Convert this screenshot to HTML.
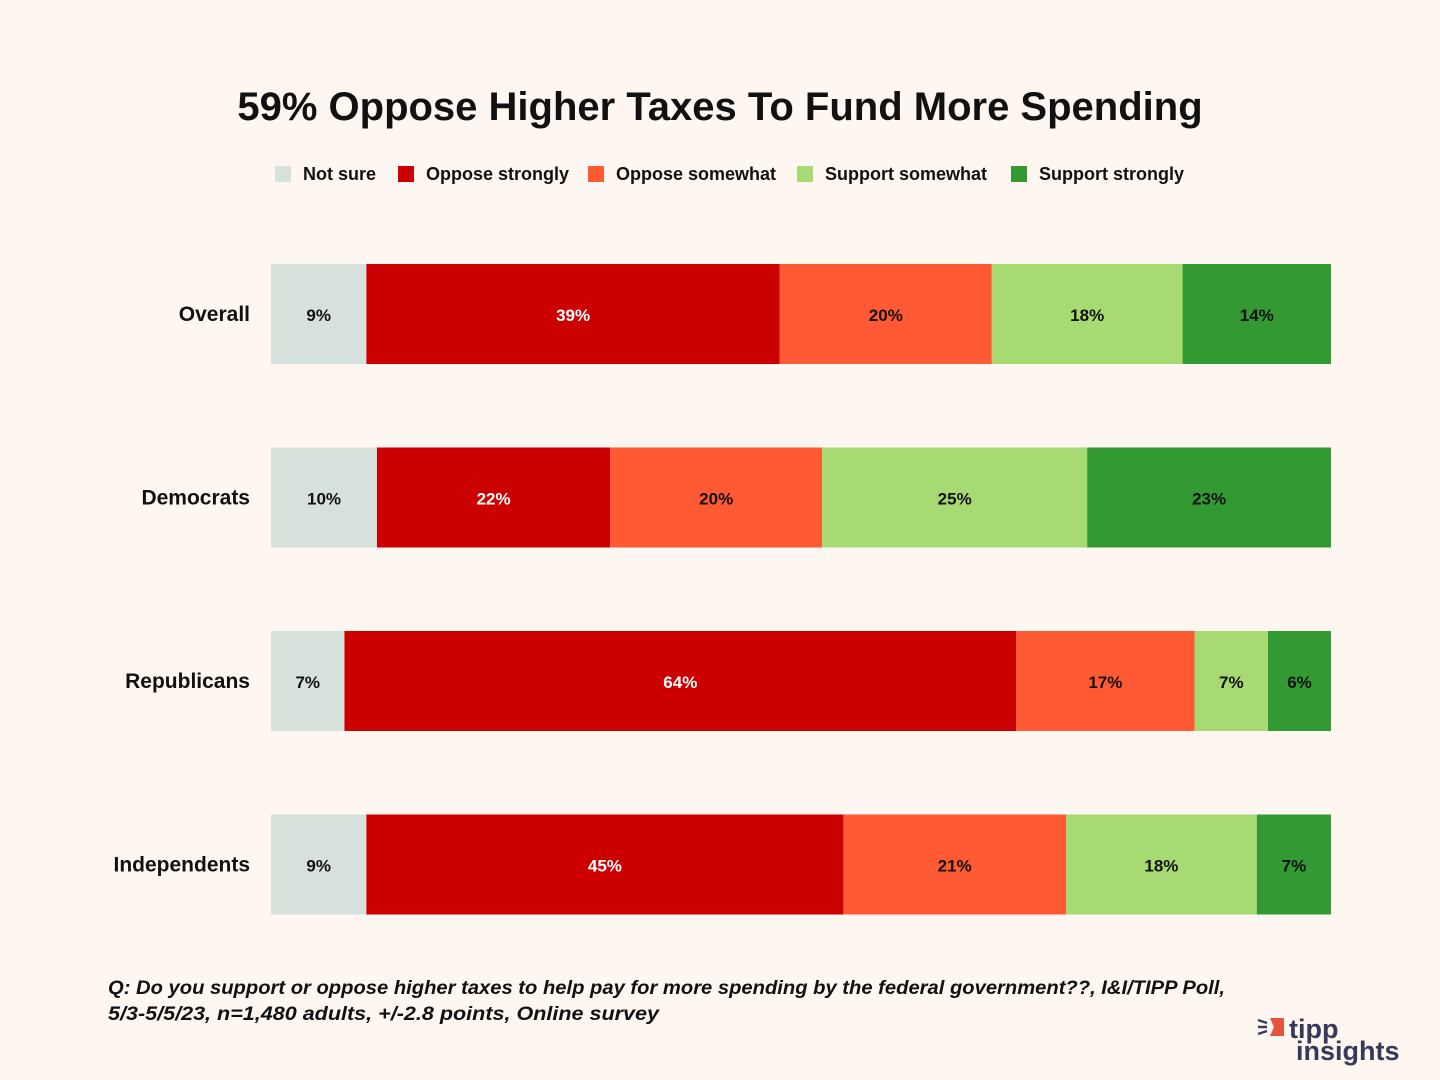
<!DOCTYPE html>
<html><head><meta charset="utf-8">
<style>
html,body{margin:0;padding:0;background:#fdf6f1;}
svg{display:block;font-family:"Liberation Sans",sans-serif;}
</style></head>
<body>
<svg id="chart" width="1440" height="1080" viewBox="0 0 1440 1080">
<rect width="1440" height="1080" fill="#fdf6f1"/>
<text x="720" y="120" text-anchor="middle" font-size="40" font-weight="bold" fill="#111">59% Oppose Higher Taxes To Fund More Spending</text>
<g id="legend"></g>
<g id="bars"></g>
<g id="cats"></g>
<text x="108" y="994" font-size="19" font-style="italic" font-weight="bold" fill="#111" textLength="1117" lengthAdjust="spacingAndGlyphs">Q: Do you support or oppose higher taxes to help pay for more spending by the federal government??, I&amp;I/TIPP Poll,</text>
<text x="108" y="1020" font-size="19" font-style="italic" font-weight="bold" fill="#111" textLength="551" lengthAdjust="spacingAndGlyphs">5/3-5/5/23, n=1,480 adults, +/-2.8 points, Online survey</text>
<g>
<path d="M1270 1018 h14 v18 h-14 l4 -9 z" fill="#e8503f"/>
<line x1="1258" y1="1020" x2="1267" y2="1023" stroke="#3a3d5c" stroke-width="2.5"/>
<line x1="1258" y1="1027" x2="1267" y2="1027" stroke="#3a3d5c" stroke-width="2.5"/>
<line x1="1258" y1="1034" x2="1267" y2="1031" stroke="#3a3d5c" stroke-width="2.5"/>
<text x="1289" y="1038" font-size="27" font-weight="bold" fill="#363a58">tipp</text>
<text x="1296" y="1060" font-size="27" font-weight="bold" fill="#363a58">insights</text>
</g>
</svg>
<script>
const categories = ["Overall","Democrats","Republicans","Independents"];
const seriesNames = ["Not sure","Oppose strongly","Oppose somewhat","Support somewhat","Support strongly"];
const notSure = [9,10,7,9];
const opposeStrongly = [39,22,64,45];
const opposeSomewhat = [20,20,17,21];
const supportSomewhat = [18,25,7,18];
const supportStrongly = [14,23,6,7];
const series = [notSure,opposeStrongly,opposeSomewhat,supportSomewhat,supportStrongly];
const colors = ["#d6e1dc","#cc0000","#ff5a33","#a8da74","#339933"];
const textColors = ["#111","#fff","#111","#111","#111"];

const NS="http://www.w3.org/2000/svg";
const X0=271, X1=1331, bandTop=264, bandStep=183.5, barH=100;
function xScale(frac){return X0+frac*(X1-X0);}
function yScale(i){return bandTop+i*bandStep;}
function mk(tag,attrs,parent){const e=document.createElementNS(NS,tag);for(const k in attrs)e.setAttribute(k,attrs[k]);parent.appendChild(e);return e;}

const bars=document.getElementById('bars'), cats=document.getElementById('cats'), legend=document.getElementById('legend');
categories.forEach((c,i)=>{
  const y=yScale(i);
  const t=mk('text',{x:250,y:y+barH/2+7,'text-anchor':'end','font-size':21,'font-weight':'bold',fill:'#111'},cats);
  
  
  t.textContent=c;
  let total=0; series.forEach(s=>total+=s[i]);
  let cum=0;
  series.forEach((s,j)=>{
    const xa=xScale(cum/total), xb=xScale((cum+s[i])/total);
    const r=mk('rect',{x:xa,y:y,width:xb-xa,height:barH,fill:colors[j]},bars);
    
    
    const lt=mk('text',{x:(xa+xb)/2,y:y+barH/2+7,'text-anchor':'middle','font-size':17,'font-weight':'bold',fill:textColors[j]},bars);
    
    
    lt.textContent=s[i]+'%';
    cum+=s[i];
  });
});
const legendX=[275,398,588,797,1011];
seriesNames.forEach((n,j)=>{
  const g=mk('g',{},legend);
  
  
  mk('rect',{x:legendX[j],y:166,width:16,height:16,fill:colors[j]},g);
  const t=mk('text',{x:legendX[j]+28,y:180,'font-size':18,'font-weight':'bold',fill:'#111'},g);
  t.textContent=n;
});
</script>
</body></html>
